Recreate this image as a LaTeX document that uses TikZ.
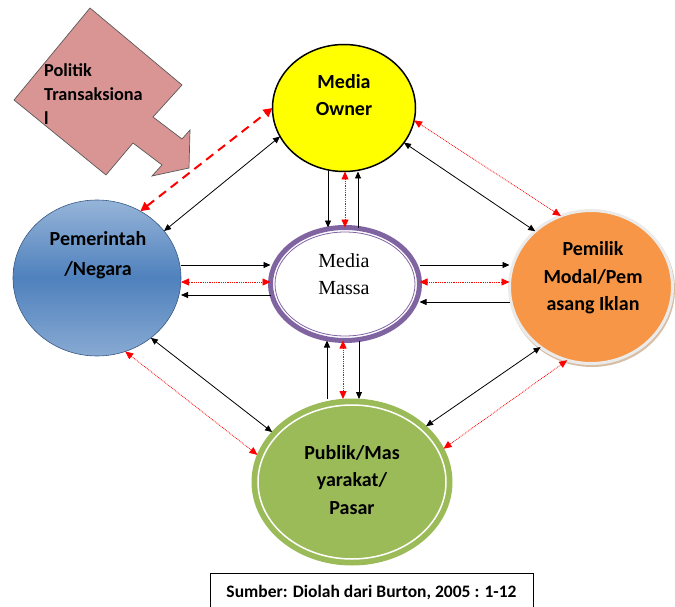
\documentclass[tikz,border=0pt]{standalone}
\usepackage{fontspec}
\setmainfont{Carlito}
\newfontfamily\massafont{Liberation Serif}
\usetikzlibrary{shapes.geometric,arrows.meta}
\definecolor{owneryellow}{RGB}{255,255,0}
\definecolor{massapurple}{RGB}{128,100,162}
\definecolor{pemblue}{RGB}{79,129,189}
\definecolor{pemlight}{RGB}{150,180,216}
\definecolor{modalorange}{RGB}{247,150,70}
\definecolor{modalrim}{RGB}{215,190,165}
\definecolor{publikgreen}{RGB}{155,187,89}
\definecolor{politikpink}{RGB}{217,149,148}

\begin{document}
\begin{tikzpicture}[x=1pt, y=-1pt,
	main/.style = {ellipse, inner sep=0pt, outer sep=0pt},
	lbl/.style = {font=\bfseries\fontsize{20}{27.5}\selectfont, align=center, inner sep=0pt},
	blk/.style = {black, line width=0.8pt, -{Triangle[length=7pt,width=6pt]}},
	blkboth/.style = {blk, {Triangle[length=7pt,width=6pt]}-{Triangle[length=7pt,width=6pt]}},
	reddot/.style = {red, line width=0.8pt, densely dotted, {Triangle[length=8pt,width=7pt]}-{Triangle[length=8pt,width=7pt]}},
	reddash/.style = {red, line width=2pt, dash pattern=on 9pt off 6pt, {Triangle[length=9pt,width=9pt]}-{Triangle[length=9pt,width=9pt]}}]
	\useasboundingbox (0,0) rectangle (675,607);
	
	% politik transaksional
	\filldraw[fill=politikpink, draw=black!65, line width=0.7pt] (90,8) -- (182,85) -- (153,117) -- (182,139) -- (190,130) -- (189,168) -- (152,176) -- (162,165) -- (133,143) -- (106,175) -- (14,100) -- cycle;
	\node[font=\bfseries\fontsize{18.3}{24}\selectfont, align=left, inner sep=0pt, anchor=west] (politik) at (44,94) {Politik\\Transaksiona\\l};
	
	% lingkaran
	\node[main, draw=black, line width=1.5pt, fill=owneryellow, minimum width=143pt, minimum height=127pt] (owner) at (344,108) {};
	\node[main, draw=massapurple, line width=5pt, fill=white, minimum width=149pt, minimum height=113pt] (massa) at (345,284) {};
	\node[main, draw=massapurple, line width=0.8pt, minimum width=140pt, minimum height=104pt] (massain) at (massa) {};
	\node[main, draw=pemblue!70!black, line width=0.6pt, top color=pemlight, bottom color=pemlight!80!pemblue, middle color=pemblue, minimum width=168pt, minimum height=156pt] (pem) at (97,278) {};
	\node[main, fill=modalrim, minimum width=166pt, minimum height=156pt] (pemilikrim) at (592,289) {};
	\node[main, draw=black!8, line width=3pt, fill=modalorange, minimum width=163pt, minimum height=153pt] (pemilik) at (591,287) {};
	\node[main, draw=publikgreen, line width=1pt, fill=publikgreen, minimum width=200pt, minimum height=166pt] (publik) at (352,482) {};
	\node[main, draw=white, line width=1.5pt, minimum width=188pt, minimum height=154pt] (publikin) at (publik) {};
	
	\node[lbl] (ownerlbl) at (344,95) {Media\\Owner};
	\node[font=\massafont\fontsize{20}{27}\selectfont, align=center, inner sep=0pt] (massalbl) at (344,274) {Media\\Massa};
	\node[lbl, font=\bfseries\fontsize{20}{30}\selectfont] (pemlbl) at (98,255) {Pemerintah\\/Negara};
	\node[lbl] (pemiliklbl) at (593,278) {Pemilik\\Modal/Pem\\asang Iklan};
	\node[lbl] (publiklbl) at (352,480) {Publik/Mas\\yarakat/\\Pasar};
	
	% owner - massa
	\draw[blk] ([xshift=-16pt]owner.south) -- ([xshift=-16pt]owner.south |- massa.north);
	\draw[reddot] ([xshift=1pt]owner.south) -- ([xshift=1pt]owner.south |- massa.north);
	\draw[blk] ([xshift=14pt]owner.south |- massa.north) -- ([xshift=14pt]owner.south);
	
	% massa - publik
	\draw[blk] ([xshift=-18pt]massa.south |- publik.north) -- ([xshift=-18pt]massa.south);
	\draw[reddot] ([xshift=-2pt]massa.south) -- ([xshift=-2pt]massa.south |- publik.north);
	\draw[blk] ([xshift=14pt]massa.south) -- ([xshift=14pt]massa.south |- publik.north);
	
	% pemerintah - massa
	\draw[blk] ([yshift=13pt]pem.east) -- ([yshift=13pt]pem.east -| massa.west);
	\draw[reddot] ([yshift=-4pt]pem.east) -- ([yshift=-4pt]pem.east -| massa.west);
	\draw[blk] ([yshift=-17pt]pem.east -| massa.west) -- ([yshift=-17pt]pem.east);
	
	% massa - pemilik
	\draw[blk] ([yshift=19pt]massa.east) -- ([yshift=19pt]massa.east -| pemilik.west);
	\draw[reddot] ([yshift=2pt]massa.east) -- ([yshift=2pt]massa.east -| pemilik.west);
	\draw[blk] ([yshift=-18pt]massa.east -| pemilik.west) -- ([yshift=-18pt]massa.east);
	
	% diagonal
	\draw[blkboth] (pem.35) -- (owner.204);
	\draw[reddash] (pem.57) -- (owner.180);
	\draw[blkboth] (owner.-30) -- (pemilik.135);
	\draw[reddot] (owner.-10) -- (pemilik.113);
	\draw[blkboth] (pem.-48) -- (publik.148);
	\draw[reddot] (pem.-69) -- (publik.164);
	\draw[blkboth] (pemilik.230) -- (publik.37);
	\draw[reddot] (pemilik.252) -- (publik.20);
	
	% sumber
	\node[draw=black, line width=1pt, minimum width=323pt, minimum height=40pt, inner sep=0pt, font=\bfseries\fontsize{17.5}{20}\selectfont] (sumber) at (371.5,593) {Sumber: Diolah dari Burton, 2005 : 1-12};
\end{tikzpicture}
\end{document}
